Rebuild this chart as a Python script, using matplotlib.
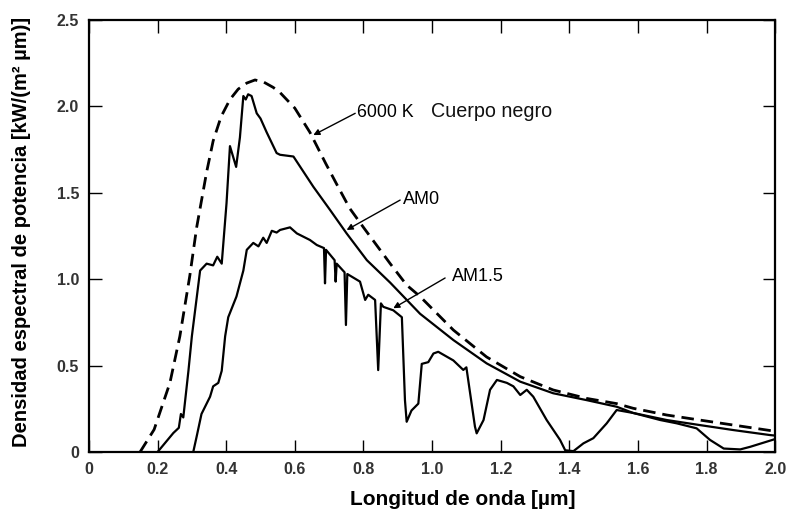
# plot.py
#
# Solar spectral irradiance: 6000 K blackbody, AM0 and AM1.5 curves
#

import matplotlib
matplotlib.use("Agg")
import matplotlib.pyplot as plt

plt.rcParams['font.family'] = ['Liberation Sans', 'DejaVu Sans']

# 6000 K blackbody (dashed)
bb_x = [0.149, 0.19, 0.236, 0.265, 0.294, 0.314, 0.343, 0.362, 0.385, 0.411,
        0.435, 0.46, 0.484, 0.51, 0.537, 0.557, 0.60, 0.644, 0.69, 0.722,
        0.76, 0.80, 0.878, 0.926, 0.965, 1.062, 1.159, 1.257, 1.353, 1.451,
        1.538, 1.586, 1.684, 1.78, 1.878, 1.976, 2.0]
bb_y = [0.0, 0.13, 0.40, 0.67, 1.02, 1.30, 1.62, 1.80, 1.94, 2.04,
        2.10, 2.135, 2.153, 2.14, 2.11, 2.08, 1.99, 1.85, 1.67, 1.55,
        1.41, 1.30, 1.09, 0.966, 0.90, 0.706, 0.55, 0.436, 0.359, 0.31,
        0.28, 0.253, 0.214, 0.185, 0.156, 0.127, 0.12]

# AM0 (extraterrestrial)
am0_x = [0.20, 0.246, 0.262, 0.268, 0.275, 0.29, 0.30, 0.324, 0.343, 0.362,
         0.374, 0.387, 0.401, 0.411, 0.429, 0.44, 0.45, 0.457, 0.464, 0.474,
         0.489, 0.50, 0.518, 0.547, 0.557, 0.596, 0.654, 0.703, 0.751, 0.81,
         0.878, 0.965, 1.062, 1.159, 1.257, 1.353, 1.451, 1.538, 1.586, 1.684,
         1.78, 1.878, 1.985, 2.0]
am0_y = [0.0, 0.11, 0.14, 0.22, 0.20, 0.47, 0.67, 1.05, 1.09, 1.08,
         1.13, 1.09, 1.44, 1.77, 1.65, 1.82, 2.06, 2.04, 2.07, 2.06,
         1.96, 1.93, 1.85, 1.73, 1.72, 1.71, 1.535, 1.40, 1.265, 1.11,
         0.98, 0.80, 0.648, 0.513, 0.407, 0.34, 0.30, 0.262, 0.226, 0.185,
         0.156, 0.127, 0.098, 0.095]

# AM1.5 (terrestrial)
am15_x = [0.304, 0.314, 0.328, 0.353, 0.362, 0.377, 0.387, 0.397, 0.406, 0.43,
          0.45, 0.46, 0.479, 0.494, 0.508, 0.518, 0.533, 0.547, 0.557, 0.586,
          0.606, 0.644, 0.664, 0.685, 0.688, 0.691, 0.716, 0.719, 0.722, 0.745,
          0.749, 0.753, 0.79, 0.805, 0.814, 0.834, 0.843, 0.851, 0.858, 0.887,
          0.912, 0.921, 0.926, 0.94, 0.96, 0.97, 0.989, 1.004, 1.018, 1.062,
          1.091, 1.10, 1.125, 1.13, 1.15, 1.169, 1.189, 1.218, 1.237, 1.257,
          1.276, 1.295, 1.334, 1.373, 1.388, 1.412, 1.441, 1.47, 1.509, 1.538,
          1.586, 1.665, 1.713, 1.771, 1.81, 1.85, 1.898, 1.927, 2.0]
am15_y = [0.0, 0.09, 0.22, 0.32, 0.38, 0.40, 0.47, 0.67, 0.78, 0.90,
          1.05, 1.17, 1.21, 1.19, 1.24, 1.21, 1.28, 1.27, 1.285, 1.30,
          1.265, 1.227, 1.198, 1.18, 0.976, 1.17, 1.11, 0.986, 1.09, 1.04,
          0.735, 1.03, 0.986, 0.88, 0.91, 0.88, 0.474, 0.86, 0.84, 0.82,
          0.78, 0.30, 0.175, 0.24, 0.28, 0.51, 0.52, 0.57, 0.58, 0.53,
          0.475, 0.49, 0.147, 0.108, 0.185, 0.36, 0.417, 0.40, 0.38, 0.33,
          0.36, 0.32, 0.185, 0.07, 0.01, 0.005, 0.05, 0.08, 0.166, 0.243,
          0.226, 0.185, 0.166, 0.137, 0.07, 0.02, 0.015, 0.03, 0.075]

x_ticks = [0, 0.2, 0.4, 0.6, 0.8, 1.0, 1.2, 1.4, 1.6, 1.8, 2.0]
x_tick_labels = ["0", "0.2", "0.4", "0.6", "0.8", "1.0", "1.2", "1.4", "1.6", "1.8", "2.0"]
y_ticks = [0, 0.5, 1.0, 1.5, 2.0, 2.5]
y_tick_labels = ["0", "0.5", "1.0", "1.5", "2.0", "2.5"]


figure = plt.figure(figsize=(7.87, 5.18), dpi=100)
ax = figure.add_axes([0.113, 0.1274, 0.872, 0.834])

ax.plot(bb_x, bb_y, color="black", lw=2.0, linestyle=(0, (4.5, 2.5)))
ax.plot(am0_x, am0_y, color="black", lw=1.6)
ax.plot(am15_x, am15_y, color="black", lw=1.6)

ax.set_xlim(0, 2.0)
ax.set_ylim(0, 2.5)
ax.set_xticks(x_ticks)
ax.set_xticklabels(x_tick_labels)
ax.set_yticks(y_ticks)
ax.set_yticklabels(y_tick_labels)
ax.tick_params(direction="in", length=9, width=1.0, top=True, right=True,
               labelsize=11.5, colors="black", labelcolor="#333333", pad=7)
for label in ax.get_xticklabels() + ax.get_yticklabels():
    label.set_fontweight("bold")
for side in ["left", "bottom", "top", "right"]:
    ax.spines[side].set_linewidth(1.6)

ax.set_xlabel("Longitud de onda [µm]", fontsize=15, fontweight="bold")
ax.xaxis.set_label_coords(0.544, -0.088)
ax.set_ylabel("Densidad espectral de potencia [kW/(m² µm)]", fontsize=14.5,
              fontweight="bold")
ax.yaxis.set_label_coords(-0.085, 0.51)

arrow = dict(arrowstyle="-|>", color="black", lw=1.0, mutation_scale=9,
             shrinkA=0, shrinkB=0)
ax.annotate("", xy=(0.654, 1.834), xytext=(0.776, 1.96), arrowprops=arrow)
ax.annotate("", xy=(0.751, 1.285), xytext=(0.907, 1.458), arrowprops=arrow)
ax.annotate("", xy=(0.887, 0.832), xytext=(1.038, 1.007), arrowprops=arrow)

ax.text(0.781, 1.962, "6000 K", fontsize=12.8, va="center", ha="left")
ax.text(0.997, 1.97, "Cuerpo negro", fontsize=14.2, va="center", ha="left", color="#111111")
ax.text(0.915, 1.464, "AM0", fontsize=13, va="center", ha="left")
ax.text(1.057, 1.015, "AM1.5", fontsize=13, va="center", ha="left")

figure.savefig("out.png")
